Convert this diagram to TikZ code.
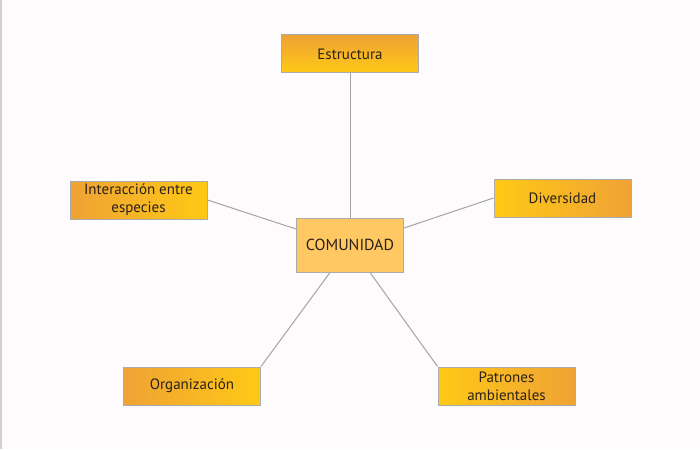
\documentclass[tikz,border=0pt]{standalone}
\usepackage{fontspec}
\setmainfont{PT Sans}
\definecolor{bgc}{HTML}{FDFBFB}
\definecolor{org}{HTML}{EFA235}
\definecolor{yel}{HTML}{FFC915}
\definecolor{ctr}{HTML}{FFC862}
\definecolor{bord}{HTML}{ABABAB}
\definecolor{lin}{HTML}{A4A4A4}
\definecolor{txt}{HTML}{2B2118}
\tikzset{
  box/.style={draw=bord, line width=1pt, minimum width=137pt, minimum height=38pt,
    inner sep=1pt, align=center, text=txt, font=\fontsize{15}{18}\selectfont},
  lr/.style={box, left color=org, right color=yel},
  rl/.style={box, left color=yel, right color=org},
  tb/.style={box, top color=org, bottom color=yel},
  center/.style={box, fill=ctr, minimum width=107pt, minimum height=54pt,
    font=\fontsize{16}{18}\selectfont},
  conn/.style={draw=lin, line width=1pt}
}
\begin{document}
\begin{tikzpicture}[x=1pt,y=-1pt]
\fill[bgc] (0,0) rectangle (700,449);
\useasboundingbox (0,0) rectangle (700,449);
\draw[draw=black!18, line width=1.5pt] (0.75,0) -- (0.75,449);
\node[center] (com) at (350,245) {COMUNIDAD};
\node[tb] (est) at (350,54) {Estructura};
\node[lr] (int) at (138.5,200) {Interacción entre\\especies};
\node[rl] (div) at (562.5,198) {Diversidad};
\node[lr] (orgz) at (192,386) {Organización};
\node[rl] (pat) at (506.5,386) {Patrones\\ambientales};
\draw[conn] (est.south) -- (com.north);
\draw[conn] (int.east) -- ([yshift=16pt]com.west);
\draw[conn] (div.west) -- ([yshift=17pt]com.east);
\draw[conn] (orgz.north east) -- ([xshift=-20pt]com.south);
\draw[conn] (pat.north west) -- ([xshift=20pt]com.south);
\end{tikzpicture}
\end{document}
